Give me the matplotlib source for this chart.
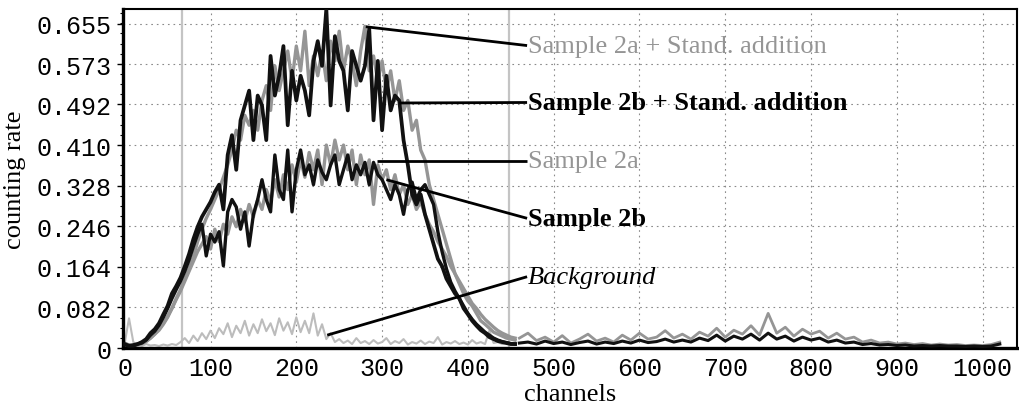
import numpy as np
import matplotlib
matplotlib.use("Agg")
import matplotlib.pyplot as plt
from matplotlib.ticker import MultipleLocator

# ---------------- data ----------------
peak_channels = np.arange(0, 460, 5)          # 0 ... 455
tail_channels = np.arange(460, 1030, 10)      # 460 ... 1020

sample_2b_sa = [
    0.008, 0.004, 0.006, 0.008, 0.012, 0.018, 0.030, 0.038, 0.050, 0.068,
    0.085, 0.110, 0.125, 0.142, 0.165, 0.190, 0.220, 0.245, 0.265, 0.280,
    0.295, 0.315, 0.330, 0.280, 0.390, 0.430, 0.360, 0.460, 0.490, 0.520,
    0.420, 0.510, 0.490, 0.420, 0.590, 0.510, 0.550, 0.610, 0.450, 0.560,
    0.500, 0.550, 0.520, 0.470, 0.580, 0.620, 0.570, 0.685, 0.490, 0.630,
    0.580, 0.560, 0.480, 0.600, 0.570, 0.540, 0.570, 0.645, 0.460, 0.580,
    0.440, 0.550, 0.480, 0.510, 0.500, 0.420, 0.370, 0.310, 0.290, 0.310,
    0.270, 0.240, 0.210, 0.180, 0.165, 0.140, 0.125, 0.110, 0.100, 0.080,
    0.068, 0.055, 0.045, 0.036, 0.030, 0.022, 0.018, 0.014, 0.012, 0.010,
    0.008, 0.008,
]

sample_2a_sa = [
    0.010, 0.006, 0.004, 0.007, 0.010, 0.014, 0.020, 0.028, 0.036, 0.048,
    0.062, 0.080, 0.100, 0.118, 0.140, 0.160, 0.185, 0.215, 0.240, 0.262,
    0.280, 0.300, 0.320, 0.345, 0.370, 0.400, 0.440, 0.420, 0.470, 0.450,
    0.480, 0.440, 0.500, 0.530, 0.480, 0.570, 0.520, 0.560, 0.600, 0.540,
    0.610, 0.560, 0.640, 0.530, 0.590, 0.550, 0.600, 0.540, 0.620, 0.580,
    0.640, 0.560, 0.610, 0.580, 0.530, 0.600, 0.650, 0.560, 0.590, 0.540,
    0.580, 0.520, 0.560, 0.500, 0.540, 0.480, 0.500, 0.440, 0.460, 0.400,
    0.380, 0.330, 0.300, 0.270, 0.240, 0.210, 0.180, 0.150, 0.130, 0.110,
    0.095, 0.085, 0.070, 0.055, 0.048, 0.040, 0.032, 0.028, 0.024, 0.020,
    0.018, 0.016,
]

sample_2b = [
    0.006, 0.005, 0.004, 0.008, 0.010, 0.016, 0.026, 0.034, 0.046, 0.062,
    0.080, 0.100, 0.118, 0.135, 0.155, 0.178, 0.205, 0.230, 0.250, 0.186,
    0.230, 0.214, 0.235, 0.166, 0.275, 0.300, 0.285, 0.240, 0.275, 0.206,
    0.270, 0.300, 0.340, 0.300, 0.275, 0.390, 0.320, 0.300, 0.400, 0.275,
    0.360, 0.400, 0.350, 0.370, 0.330, 0.380, 0.355, 0.340, 0.370, 0.390,
    0.330, 0.360, 0.390, 0.340, 0.370, 0.350, 0.375, 0.330, 0.375, 0.350,
    0.340, 0.320, 0.300, 0.330, 0.310, 0.270, 0.320, 0.335, 0.300, 0.320,
    0.330, 0.310, 0.290, 0.235, 0.194, 0.160, 0.133, 0.115, 0.100, 0.085,
    0.070, 0.058, 0.048, 0.040, 0.032, 0.026, 0.020, 0.016, 0.013, 0.011,
    0.009, 0.008,
]

sample_2a = [
    0.008, 0.006, 0.005, 0.006, 0.009, 0.013, 0.020, 0.028, 0.038, 0.050,
    0.064, 0.080, 0.098, 0.115, 0.135, 0.155, 0.175, 0.195, 0.210, 0.225,
    0.200, 0.240, 0.215, 0.250, 0.230, 0.265, 0.245, 0.280, 0.255, 0.290,
    0.265, 0.300, 0.280, 0.320, 0.295, 0.340, 0.305, 0.350, 0.320, 0.370,
    0.335, 0.380, 0.345, 0.395, 0.360, 0.400, 0.330, 0.410, 0.370, 0.420,
    0.380, 0.410, 0.360, 0.400, 0.330, 0.390, 0.350, 0.380, 0.290, 0.370,
    0.340, 0.360, 0.320, 0.350, 0.310, 0.330, 0.290, 0.310, 0.280, 0.295,
    0.270, 0.250, 0.235, 0.215, 0.200, 0.185, 0.165, 0.150, 0.135, 0.120,
    0.105, 0.090, 0.080, 0.068, 0.058, 0.050, 0.042, 0.035, 0.030, 0.026,
    0.022, 0.020,
]

background = [
    0.010, 0.060, 0.012, 0.006, 0.004, 0.008, 0.005, 0.006, 0.004, 0.007,
    0.005, 0.008, 0.006, 0.012, 0.020, 0.010, 0.025, 0.014, 0.030, 0.018,
    0.035, 0.020, 0.040, 0.028, 0.050, 0.022, 0.045, 0.030, 0.055, 0.025,
    0.048, 0.030, 0.058, 0.034, 0.050, 0.026, 0.060, 0.035, 0.052, 0.028,
    0.062, 0.032, 0.055, 0.030, 0.070, 0.025, 0.048, 0.018, 0.030, 0.012,
    0.018, 0.010, 0.015, 0.008, 0.020, 0.010, 0.014, 0.008, 0.016, 0.009,
    0.012, 0.020, 0.008, 0.014, 0.010, 0.018, 0.007, 0.012, 0.009, 0.015,
    0.008, 0.013, 0.010, 0.022, 0.007, 0.012, 0.009, 0.014, 0.008, 0.011,
    0.007, 0.016, 0.009, 0.012, 0.008, 0.035, 0.010, 0.012, 0.008, 0.010,
    0.009, 0.011,
]

tail_2a = [
    0.020, 0.030, 0.015, 0.022, 0.012, 0.025, 0.010, 0.018, 0.028, 0.014,
    0.020, 0.012, 0.026, 0.016, 0.030, 0.018, 0.022, 0.035, 0.020, 0.028,
    0.018, 0.032, 0.024, 0.040, 0.022, 0.036, 0.028, 0.045, 0.026, 0.070,
    0.030, 0.042, 0.024, 0.038, 0.028, 0.034, 0.020, 0.030, 0.018, 0.022,
    0.012, 0.016, 0.010, 0.012, 0.008, 0.010, 0.007, 0.009, 0.006, 0.008,
    0.006, 0.007, 0.005, 0.006, 0.005, 0.007, 0.012,
]

tail_2b = [
    0.010, 0.012, 0.008, 0.014, 0.009, 0.012, 0.007, 0.011, 0.014, 0.008,
    0.012, 0.009, 0.014, 0.010, 0.016, 0.011, 0.013, 0.018, 0.012, 0.016,
    0.012, 0.020, 0.015, 0.026, 0.014, 0.024, 0.018, 0.028, 0.016, 0.030,
    0.018, 0.024, 0.014, 0.022, 0.016, 0.020, 0.012, 0.016, 0.010, 0.012,
    0.007, 0.009, 0.006, 0.007, 0.005, 0.006, 0.004, 0.005, 0.004, 0.005,
    0.004, 0.004, 0.003, 0.004, 0.003, 0.004, 0.008,
]

y_ticks = [0, 0.082, 0.164, 0.246, 0.328, 0.410, 0.492, 0.573, 0.655]
y_tick_labels = ["0", "0.082", "0.164", "0.246", "0.328", "0.410", "0.492", "0.573", "0.655"]
x_ticks = [0, 100, 200, 300, 400, 500, 600, 700, 800, 900, 1000]
roi_markers = [67, 448]

labels = ["Sample 2a + Stand. addition", "Sample 2b + Stand. addition",
          "Sample 2a", "Sample 2b", "Background"]

# ---------------- figure ----------------
BLACK = "#111111"
GRAY = "#959595"
LIGHT = "#bcbcbc"
serif = "Liberation Serif"
mono = "Liberation Mono"

fig = plt.figure(figsize=(10.2, 4.14), dpi=100)
ax = fig.add_axes([0.1206, 0.157, 0.997 - 0.1206, 0.976 - 0.157])
ax.set_xlim(-2, 1040)
ax.set_ylim(0, 0.685)

# grid
for yt in y_ticks[1:]:
    ax.axhline(yt, color="#8a8a8a", lw=0.8, ls=(0, (1.5, 3.5)), zorder=0)
for xt in x_ticks[1:]:
    ax.axvline(xt, color="#8a8a8a", lw=0.8, ls=(0, (1.5, 3.5)), zorder=0)
for xr in roi_markers:
    ax.axvline(xr, color="#c4c4c4", lw=1.6, zorder=0.5)

# curves
ax.plot(peak_channels, background, color=LIGHT, lw=1.5, zorder=1)
ax.plot(peak_channels, sample_2a_sa, color=GRAY, lw=2.4, zorder=2)
ax.plot(peak_channels, sample_2a, color=GRAY, lw=2.4, zorder=2)
ax.plot(tail_channels, tail_2a, color=GRAY, lw=2.0, zorder=2)
ax.plot(peak_channels, sample_2b, color=BLACK, lw=2.4, zorder=3)
ax.plot(tail_channels, tail_2b, color=BLACK, lw=2.2, zorder=3)
ax.plot(peak_channels, sample_2b_sa, color=BLACK, lw=2.7, zorder=3)

# leader lines and labels
text_x = 469
leaders = [
    ((281, 0.649), (text_x, 0.611)),
    ((320, 0.495), (text_x, 0.496)),
    ((294, 0.378), (text_x, 0.378)),
    ((305, 0.340), (text_x, 0.262)),
    ((236, 0.026), (text_x, 0.144)),
]
styles = [
    dict(color=GRAY, fontweight="normal", fontstyle="normal"),
    dict(color="black", fontweight="bold", fontstyle="normal"),
    dict(color=GRAY, fontweight="normal", fontstyle="normal"),
    dict(color="black", fontweight="bold", fontstyle="normal"),
    dict(color="black", fontweight="normal", fontstyle="italic"),
]
for lab, (p0, p1), st in zip(labels, leaders, styles):
    ax.plot([p0[0], p1[0]], [p0[1], p1[1]], color="black", lw=2.0, zorder=5,
            solid_capstyle="butt")
    ax.text(p1[0] + 1, p1[1], lab, fontsize=19, family=serif, va="center",
            ha="left", zorder=6, **st)

# axes styling
ax.set_xticks(x_ticks)
ax.set_xticklabels([str(v) for v in x_ticks], family=mono, fontsize=18)
ax.set_yticks(y_ticks)
ax.set_yticklabels(y_tick_labels, family=mono, fontsize=18)
ax.yaxis.set_minor_locator(MultipleLocator(0.0205))
ax.tick_params(axis="both", which="major", length=4, width=1, direction="out", pad=4)
ax.tick_params(axis="y", which="minor", length=2.5, width=0.8, direction="out")
ax.tick_params(axis="x", which="major", length=0, pad=6)

for side in ["left", "bottom"]:
    ax.spines[side].set_linewidth(2.4)
for side in ["top", "right"]:
    ax.spines[side].set_linewidth(1.5)

ax.set_xlabel("channels", family=serif, fontsize=19, labelpad=2)
ax.set_ylabel("counting rate", family=serif, fontsize=19, labelpad=8)

fig.savefig("out.png", dpi=100)
